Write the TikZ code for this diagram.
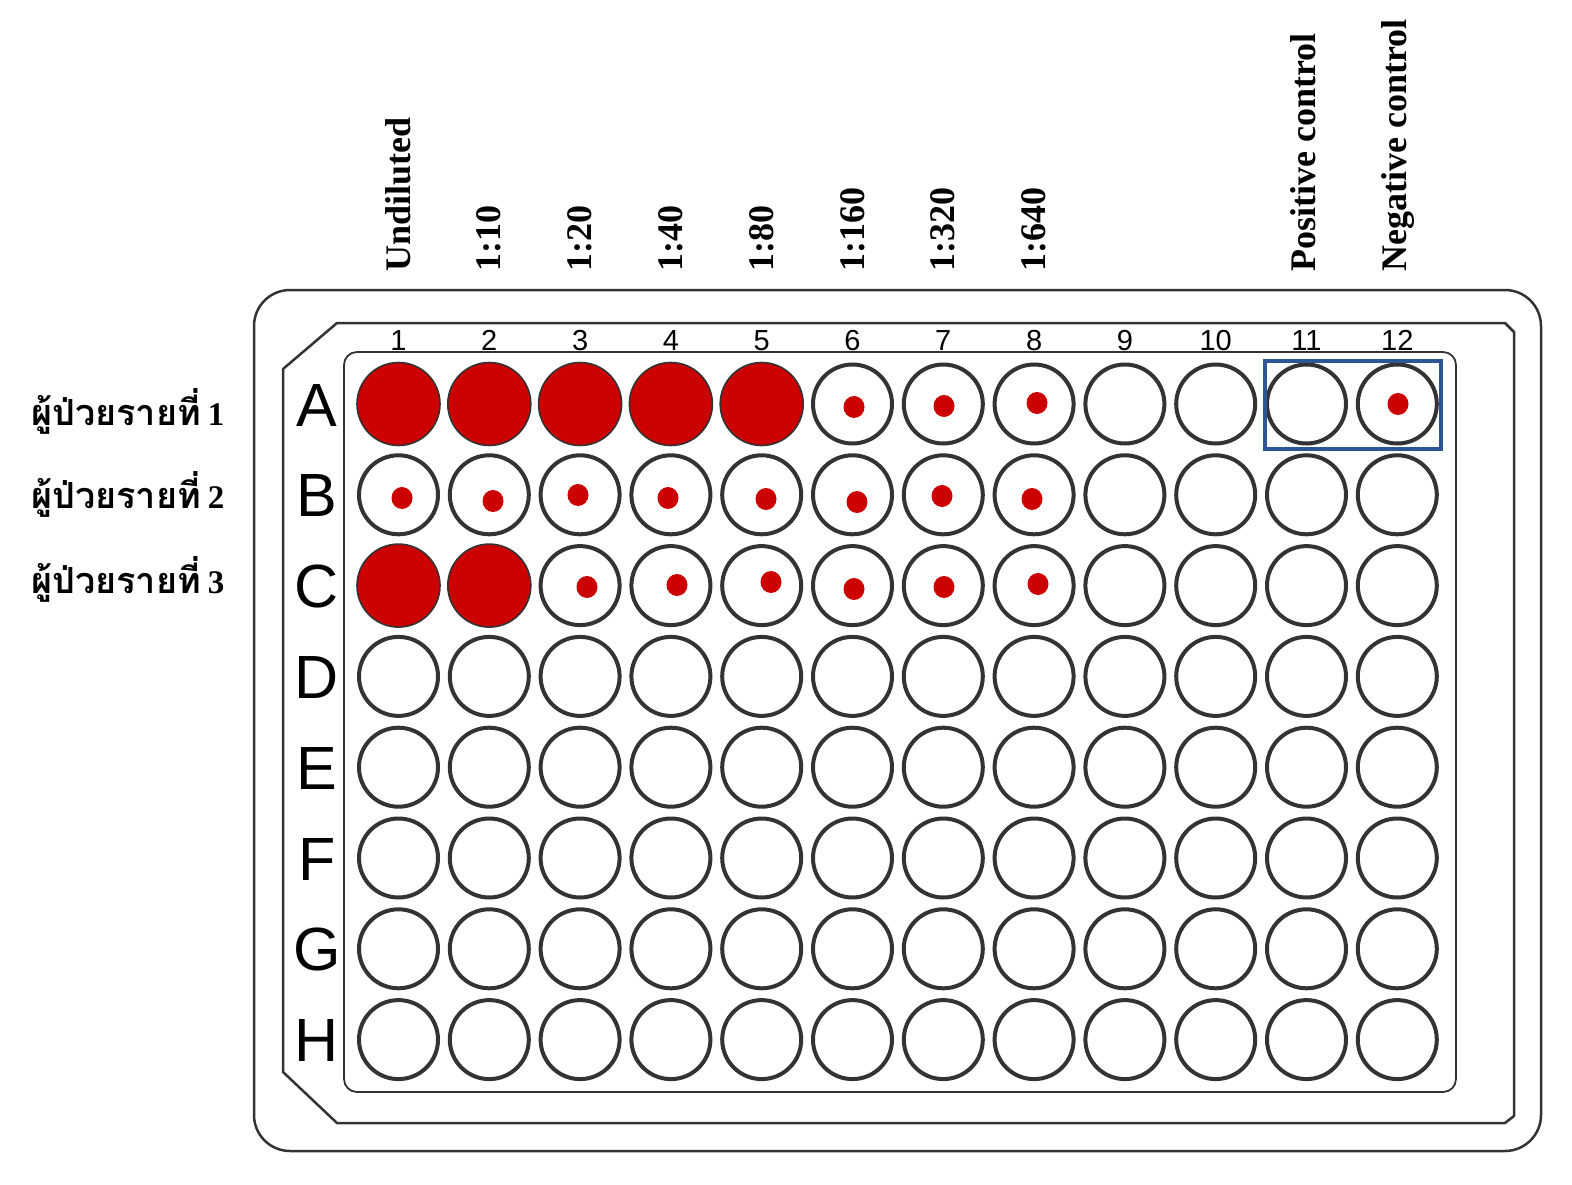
\documentclass[tikz,border=0pt]{standalone}
\usepackage{fontspec}
\setmainfont{Liberation Serif}
\setsansfont{Liberation Sans}
\newfontfamily\thaifont[Script=Thai]{Loma}
\definecolor{wellred}{HTML}{CC0000}
\definecolor{edge}{HTML}{333333}
\definecolor{boxblue}{HTML}{2E5597}
\begin{document}
\begin{tikzpicture}[x=1pt,y=-1pt,
  well/.style={circle,draw=edge,line width=4pt,minimum size=79pt,inner sep=0pt},
  fullwell/.style={circle,draw=edge,line width=1.6pt,fill=wellred,minimum size=83pt,inner sep=0pt},
  dotblob/.style={fill=wellred},
  collabel/.style={rotate=90,anchor=base west,inner sep=0pt,font=\bfseries\fontsize{36}{36}\selectfont},
  colnum/.style={anchor=base,inner sep=0pt,font=\sffamily\fontsize{29}{29}\selectfont},
  rowlabel/.style={anchor=base,inner sep=0pt,font=\sffamily\fontsize{61}{61}\selectfont},
  patient/.style={anchor=base west,inner sep=0pt,font=\fontsize{33}{33}\selectfont},
  plate/.style={draw=edge,line width=2.5pt,line join=round}]
\useasboundingbox (0,0) rectangle (1572,1185);
% plate outlines
\draw[plate,rounded corners=36pt] (254,290) rectangle (1541,1151);
\draw[plate] (337,323) -- (1505,323) -- (1514,332) -- (1514,1116) -- (1505,1123) -- (337,1123) -- (283,1072) -- (283,369) -- cycle;
\draw[draw=edge,line width=1.8pt,rounded corners=13pt] (344,352) rectangle (1456,1092);
% column numbers
\foreach \c in {1,...,12}{
  \node[colnum] (num\c) at ({398.5+90.8*(\c-1)},350) {\c};
}
% row letters
\foreach \r/\L in {1/A,2/B,3/C,4/D,5/E,6/F,7/G,8/H}{
  \node[rowlabel] (row\L) at (317,{404+90.8*(\r-1)+22}) {\L};
}
% wells
\foreach \r/\L in {1/A,2/B,3/C,4/D,5/E,6/F,7/G,8/H}{
  \foreach \c in {1,...,12}{
    \node[well] (w\L\c) at ({398.5+90.8*(\c-1)},{404+90.8*(\r-1)}) {};
  }
}
% fully agglutinated wells
\foreach \r/\L/\c in {1/A/1,1/A/2,1/A/3,1/A/4,1/A/5,3/C/1,3/C/2}{
  \node[fullwell] (f\L\c) at ({398.5+90.8*(\c-1)},{404+90.8*(\r-1)}) {};
}
% button dots
\foreach \x/\y in {854/407,944/406,1037/403,1398/404,
  402/498,493/501,578/495,668/498,766/499,857/502,942/496,1032/499,
  587/587,677/585,771/582,854/589,944/587,1038/584}{
  \fill[dotblob] (\x,\y) ellipse (10.5pt and 11pt);
}
% control box
\draw[boxblue,line width=4pt] (1265,361) rectangle (1441,449);
% column labels
\node[collabel] (lab1) at (410,272) {Undiluted};
\node[collabel] (lab2) at (500.8,272) {1:10};
\node[collabel] (lab3) at (591.6,272) {1:20};
\node[collabel] (lab4) at (682.4,272) {1:40};
\node[collabel] (lab5) at (773.2,272) {1:80};
\node[collabel] (lab6) at (864,272) {1:160};
\node[collabel] (lab7) at (954.8,272) {1:320};
\node[collabel] (lab8) at (1045.6,272) {1:640};
\node[collabel] (lab11) at (1315,272) {Positive control};
\node[collabel] (lab12) at (1406,272) {Negative control};
% patient labels
\node[patient] (p1) at (31,425) {{\thaifont\bfseries\fontsize{36}{36}\selectfont ผู้ป่วยรายที่}\hspace{7pt}\textbf{1}};
\node[patient] (p2) at (31,508) {{\thaifont\bfseries\fontsize{36}{36}\selectfont ผู้ป่วยรายที่}\hspace{7pt}\textbf{2}};
\node[patient] (p3) at (31,593) {{\thaifont\bfseries\fontsize{36}{36}\selectfont ผู้ป่วยรายที่}\hspace{7pt}\textbf{3}};
\end{tikzpicture}
\end{document}
